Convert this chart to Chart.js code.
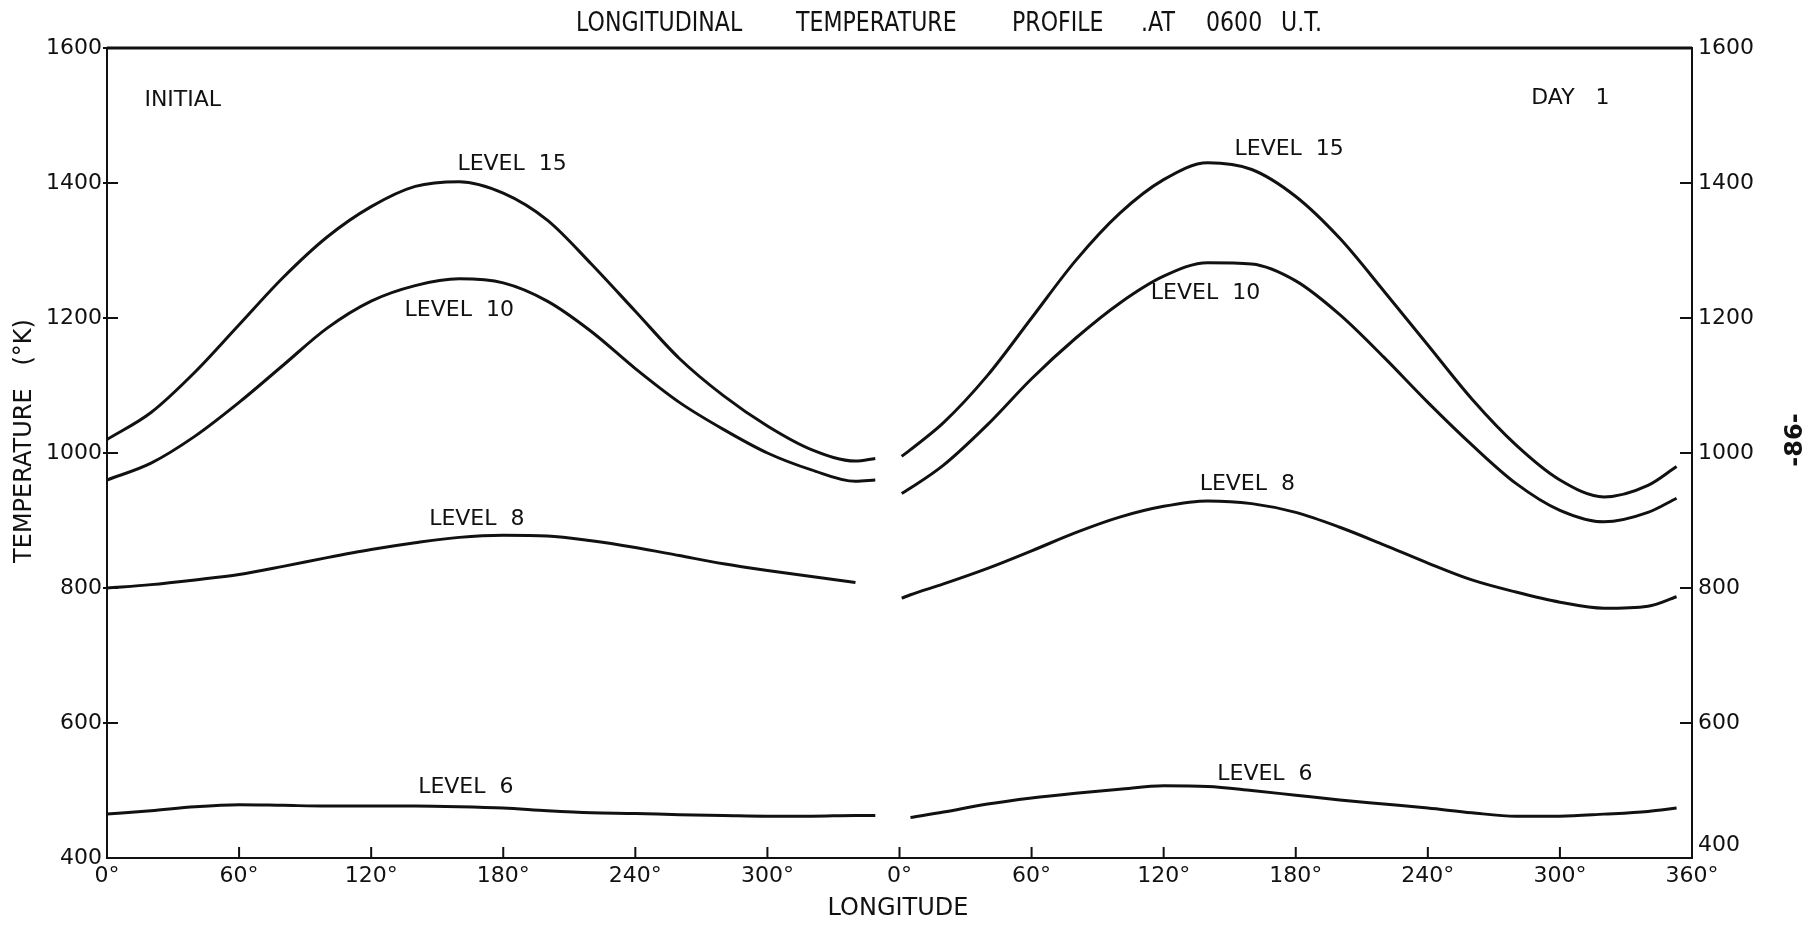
<!DOCTYPE html>
<html>
<head>
<meta charset="utf-8">
<script src="https://cdn.jsdelivr.net/npm/chart.js@4/dist/chart.umd.min.js"></script>
<style>
  html, body { margin: 0; background: #fff; }
</style>
</head>
<body>
<canvas id="chart" width="1817" height="931"></canvas>
<script>
// longitudes (deg) of the read-off points, initial panel and day 1 panel
const lonInitial = [0, 20, 40, 60, 80, 100, 120, 140, 160, 180, 200, 220, 240, 260, 280, 300, 320, 340, 349];
const lonDay1 = [1, 5, 20, 40, 60, 80, 100, 120, 140, 160, 180, 200, 220, 240, 260, 280, 300, 320, 340, 353];

// temperature (K), initial
const init15 = [1020, 1060, 1120, 1190, 1260, 1320, 1365, 1395, 1402, 1385, 1345, 1280, 1210, 1140, 1085, 1040, 1005, 988, 992];
const init10 = [960, 985, 1025, 1075, 1130, 1185, 1225, 1248, 1258, 1252, 1225, 1180, 1125, 1075, 1035, 1000, 975, 958, 960];
const init8 = [800, 805, 812, 820, 832, 845, 857, 867, 875, 878, 877, 870, 860, 848, 836, 826, 817, 808, null];
const init6 = [465, 470, 476, 479, 478, 477, 477, 477, 476, 474, 470, 467, 466, 464, 463, 462, 462, 463, 463];

// temperature (K), day 1
const day15 = [995, 1005, 1045, 1115, 1200, 1285, 1355, 1405, 1430, 1420, 1380, 1318, 1240, 1160, 1080, 1012, 960, 935, 952, 980];
const day10 = [940, 948, 982, 1042, 1110, 1170, 1222, 1262, 1282, 1280, 1255, 1205, 1142, 1075, 1012, 955, 915, 898, 912, 933];
const day8 = [785, 790, 806, 829, 855, 882, 905, 921, 929, 925, 912, 890, 864, 837, 812, 794, 779, 770, 773, 787];
const day6 = [null, 460, 468, 480, 489, 496, 502, 507, 506, 500, 493, 486, 480, 474, 467, 462, 462, 465, 469, 474];

const xTickValues = [0, 60, 120, 180, 240, 300, 360, 420, 480, 540, 600, 660, 720];
const xTickLabels = ['0°', '60°', '120°', '180°', '240°', '300°', '0°', '60°', '120°', '180°', '240°', '300°', '360°'];
const yTickValues = [400, 600, 800, 1000, 1200, 1400, 1600];

const ink = '#111';
const font = 'DejaVu Sans';

function toPoints(lons, temps, offset) {
  return lons.map((lon, i) => ({ x: lon + offset, y: temps[i] }));
}

function curve(lons, temps, offset) {
  return {
    data: toPoints(lons, temps, offset),
    borderColor: ink,
    borderWidth: 3,
    pointRadius: 0,
    fill: false,
    cubicInterpolationMode: 'monotone'
  };
}

// curve labels, placed in data units (longitude on the 0-720 axis, K)
const curveLabels = [
  ['LEVEL  15', 184, 1427], ['LEVEL  10', 160, 1211], ['LEVEL  8', 168, 902], ['LEVEL  6', 163, 505],
  ['LEVEL  15', 537, 1450], ['LEVEL  10', 499, 1237], ['LEVEL  8', 518, 954], ['LEVEL  6', 526, 524]
];

// narrow lettering, like the stencil text of the original
function narrowText(ctx, text, px, py, squeeze) {
  ctx.save();
  ctx.translate(px, py);
  ctx.scale(squeeze, 1);
  ctx.fillText(text, 0, 0);
  ctx.restore();
}

const decor = {
  id: 'decor',
  afterDraw(chart) {
    const { ctx, chartArea: a } = chart;
    const x = chart.scales.x, y = chart.scales.y;
    ctx.save();
    ctx.strokeStyle = ink;
    ctx.fillStyle = ink;

    // frame
    ctx.lineWidth = 2;
    ctx.strokeRect(a.left, a.top, a.right - a.left, a.bottom - a.top);
    ctx.lineWidth = 3;
    ctx.beginPath(); ctx.moveTo(a.left, a.top); ctx.lineTo(a.right, a.top); ctx.stroke();

    // inward tick marks
    ctx.lineWidth = 2;
    ctx.beginPath();
    xTickValues.slice(1, -1).forEach(v => {
      const px = x.getPixelForValue(v);
      ctx.moveTo(px, a.bottom); ctx.lineTo(px, a.bottom - 11);
    });
    yTickValues.slice(1).forEach(v => {
      const py = y.getPixelForValue(v);
      ctx.moveTo(a.left - 4, py); ctx.lineTo(a.left + 11, py);
      if (v < 1600) { ctx.moveTo(a.right, py); ctx.lineTo(a.right - 12, py); }
    });
    ctx.stroke();

    // title
    ctx.textBaseline = 'middle';
    ctx.textAlign = 'left';
    ctx.font = '26px ' + font;
    [['LONGITUDINAL', 576], ['TEMPERATURE', 796], ['PROFILE', 1012], ['.AT', 1141], ['0600', 1206], ['U.T.', 1281]]
      .forEach(([t, px]) => narrowText(ctx, t, px, 24, 0.85));

    // panel captions and curve labels
    ctx.font = '22px ' + font;
    ctx.fillText('INITIAL', x.getPixelForValue(17), y.getPixelForValue(1522));
    ctx.fillText('DAY   1', x.getPixelForValue(647), y.getPixelForValue(1525));
    ctx.textAlign = 'center';
    curveLabels.forEach(([t, lon, temp]) => ctx.fillText(t, x.getPixelForValue(lon), y.getPixelForValue(temp)));

    // axis titles
    ctx.font = '24px ' + font;
    ctx.fillText('LONGITUDE', 898, 909);
    ctx.save();
    ctx.translate(25, 441);
    ctx.rotate(-Math.PI / 2);
    ctx.fillText('TEMPERATURE   (°K)', 0, 0);
    ctx.restore();

    // page number
    ctx.save();
    ctx.translate(1796, 440);
    ctx.rotate(-Math.PI / 2);
    ctx.font = 'bold 24px ' + font;
    ctx.fillText('-86-', 0, 0);
    ctx.restore();

    ctx.restore();
  }
};

const tickFont = { family: font, size: 22 };

new Chart(document.getElementById('chart'), {
  type: 'line',
  data: {
    datasets: [
      curve(lonInitial, init15, 0), curve(lonInitial, init10, 0),
      curve(lonInitial, init8, 0), curve(lonInitial, init6, 0),
      curve(lonDay1, day15, 360), curve(lonDay1, day10, 360),
      curve(lonDay1, day8, 360), curve(lonDay1, day6, 360)
    ]
  },
  options: {
    responsive: false,
    animation: false,
    events: [],
    layout: { padding: { top: 48, left: 0, right: 0, bottom: 0 } },
    plugins: { legend: { display: false }, title: { display: false }, tooltip: { enabled: false } },
    scales: {
      x: {
        type: 'linear', position: 'bottom', min: 0, max: 720,
        afterBuildTicks: s => { s.ticks = xTickValues.map(v => ({ value: v })); },
        afterFit: s => { s.height = 73; },
        grid: { display: false, drawTicks: false },
        border: { display: false },
        ticks: {
          autoSkip: false, maxRotation: 0, padding: 5, color: ink, font: tickFont,
          callback: v => xTickLabels[xTickValues.indexOf(v)]
        }
      },
      y: {
        type: 'linear', position: 'left', min: 400, max: 1600,
        afterBuildTicks: s => { s.ticks = yTickValues.map(v => ({ value: v })); },
        afterFit: s => { s.width = 107; },
        grid: { display: false, drawTicks: false },
        border: { display: false },
        ticks: { padding: 5, color: ink, font: tickFont, callback: v => String(v) }
      },
      y2: {
        type: 'linear', position: 'right', min: 400, max: 1600,
        afterBuildTicks: s => { s.ticks = yTickValues.map(v => ({ value: v })); },
        afterFit: s => { s.width = 125; },
        grid: { display: false, drawTicks: false },
        border: { display: false },
        ticks: {
          padding: 6, color: ink, font: tickFont,
          callback: v => v === 400 ? [String(v), ''] : String(v)
        }
      }
    }
  },
  plugins: [decor]
});
</script>
</body>
</html>
